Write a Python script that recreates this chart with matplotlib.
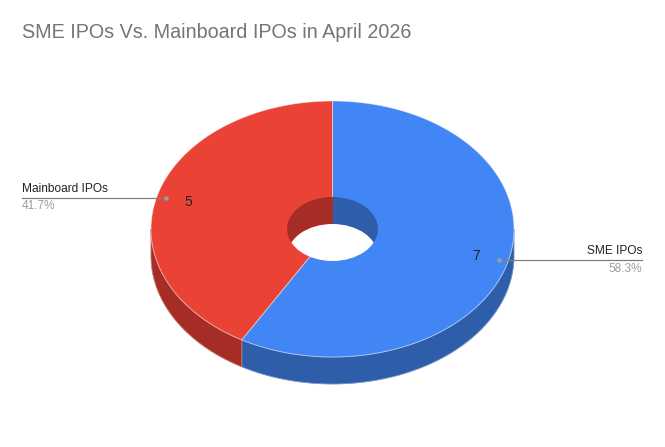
import numpy as np
import matplotlib.pyplot as plt
from matplotlib.patches import Polygon, Ellipse
from matplotlib.lines import Line2D

labels = ['SME IPOs', 'Mainboard IPOs']
values = [7, 5]
top_colors = ['#4285F4', '#EA4335']
side_colors = ['#2E5DAA', '#A52D25']
title = 'SME IPOs Vs. Mainboard IPOs in April 2026'

plt.rcParams['font.family'] = ['Liberation Sans', 'DejaVu Sans']

W, H = 665, 447
fig = plt.figure(figsize=(W / 100, H / 100), dpi=100)
ax = fig.add_axes([0, 0, 1, 1])
ax.set_xlim(0, W)
ax.set_ylim(H, 0)
ax.axis('off')

# pie geometry in pixels
cx, cy = 332.5, 229
rx, ry = 181.5, 128
depth = 27
hole = 0.25


def pts(a0, a1, r=1.0, dy=0.0, n=120):
    t = np.radians(np.linspace(a0, a1, n))
    return np.column_stack([cx + rx * r * np.sin(t), cy - ry * r * np.cos(t) + dy])


def overlap(a, b, c, d):
    lo, hi = max(a, c), min(b, d)
    return (lo, hi) if hi > lo else None


total = sum(values)
bounds = np.concatenate([[0], np.cumsum(values) / total * 360])
slices = list(zip(bounds[:-1], bounds[1:]))

# outer front side walls
for (a0, a1), col in zip(slices, side_colors):
    rng = overlap(a0, a1, 90, 270)
    if rng:
        top = pts(rng[0], rng[1])
        bot = pts(rng[0], rng[1], dy=depth)[::-1]
        ax.add_patch(Polygon(np.vstack([top, bot]), closed=True, fc=col, ec=col, lw=0.5))
        ax.add_patch(Polygon(np.vstack([top, bot]), closed=True, fc='none',
                             ec=(1, 1, 1, 0.35), lw=0.6))

# top faces
for (a0, a1), col in zip(slices, top_colors):
    arc = pts(a0, a1)
    poly = np.vstack([[cx, cy], arc])
    ax.add_patch(Polygon(poly, closed=True, fc=col, ec=(1, 1, 1, 0.45), lw=0.7))

# hole: back inner wall and opening
hole_clip = Ellipse((cx, cy), 2 * rx * hole, 2 * ry * hole, transform=ax.transData)
for (a0, a1), col in zip(slices, side_colors):
    for b0, b1 in [(0, 90), (270, 360)]:
        rng = overlap(a0, a1, b0, b1)
        if rng:
            top = pts(rng[0], rng[1], r=hole)
            bot = pts(rng[0], rng[1], r=hole, dy=depth)[::-1]
            p = Polygon(np.vstack([top, bot]), closed=True, fc=col, ec=col, lw=0.5)
            ax.add_patch(p)
            p.set_clip_path(hole_clip)
opening = Ellipse((cx, cy + depth), 2 * rx * hole, 2 * ry * hole, fc='white', ec='none')
ax.add_patch(opening)
opening.set_clip_path(hole_clip)

# value labels and leader lines
for (a0, a1), lab, v in zip(slices, labels, values):
    mid = (a0 + a1) / 2
    s, c = np.sin(np.radians(mid)), np.cos(np.radians(mid))
    vx, vy = cx + rx * 0.82 * s, cy - ry * 0.82 * c
    ax.text(vx, vy, str(v), ha='center', va='center', fontsize=10, color='#222222')
    dx, dyy = cx + rx * 0.95 * s, cy - ry * 0.95 * c
    if s >= 0:
        xend, ha = 642, 'right'
    else:
        xend, ha = 22, 'left'
    ax.add_line(Line2D([dx, xend], [dyy, dyy], color='#808080', lw=0.9))
    ax.plot([dx], [dyy], 'o', ms=3.2, color='#9E9E9E', mec='none')
    ax.text(xend, dyy - 3, lab, ha=ha, va='bottom', fontsize=8.6, color='#222222')
    ax.text(xend, dyy + 2.5, f'{v / total * 100:.1f}%', ha=ha, va='top',
            fontsize=8.6, color='#9E9E9E')

ax.text(22, 33, title, ha='left', va='center', fontsize=14.2, color='#757575')

fig.savefig('out.png', dpi=100)
